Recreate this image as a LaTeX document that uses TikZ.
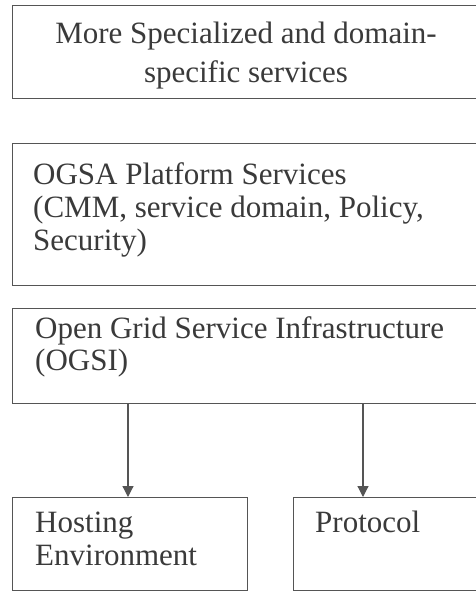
\documentclass[tikz,border=0pt]{standalone}
\usepackage{fontspec}
\setmainfont{Liberation Serif}
\usetikzlibrary{arrows.meta}
\definecolor{linecol}{HTML}{555555}
\definecolor{txtcol}{HTML}{3A3A3A}
\tikzset{
  boxnode/.style={draw=linecol, line width=1.3pt, rectangle, inner sep=0pt, anchor=north west},
  label/.style={text=txtcol, inner sep=0pt, align=left, anchor=base west, font=\fontsize{31}{33}\selectfont},
  arr/.style={draw=linecol, line width=1.2pt, -{Triangle[width=11pt,length=11pt]}}
}
\begin{document}
\begin{tikzpicture}[x=1pt,y=1pt]
\fill[white] (0,0) rectangle (476,-592);
\clip (0,0) rectangle (476,-592);
\node[boxnode, minimum width=470pt, minimum height=93pt] (b1) at (12,-5) {};
\node[boxnode, minimum width=470pt, minimum height=142pt] (b2) at (12,-143) {};
\node[boxnode, minimum width=470pt, minimum height=95pt] (b3) at (12,-308) {};
\node[boxnode, minimum width=235pt, minimum height=93pt] (b4) at (12,-497) {};
\node[boxnode, minimum width=189pt, minimum height=93pt] (b5) at (293,-497) {};
\node[label, align=center, anchor=base, font=\fontsize{31}{39}\selectfont] (t1) at (246,-82) {More Specialized and domain-\\specific services};
\node[label] (t2) at (33,-250) {OGSA Platform Services\\(CMM, service domain, Policy,\\Security)};
\node[label, font=\fontsize{31}{32}\selectfont] (t3) at (35,-370) {Open Grid Service Infrastructure\\(OGSI)};
\node[label] (t4) at (35,-565) {Hosting\\Environment};
\node[label] (t5) at (315,-532) {Protocol};
\coordinate (ax1) at (128,0);
\coordinate (ax2) at (363,0);
\draw[arr] (ax1 |- b3.south) -- (ax1 |- b4.north);
\draw[arr] (ax2 |- b3.south) -- (ax2 |- b5.north);
\end{tikzpicture}
\end{document}
